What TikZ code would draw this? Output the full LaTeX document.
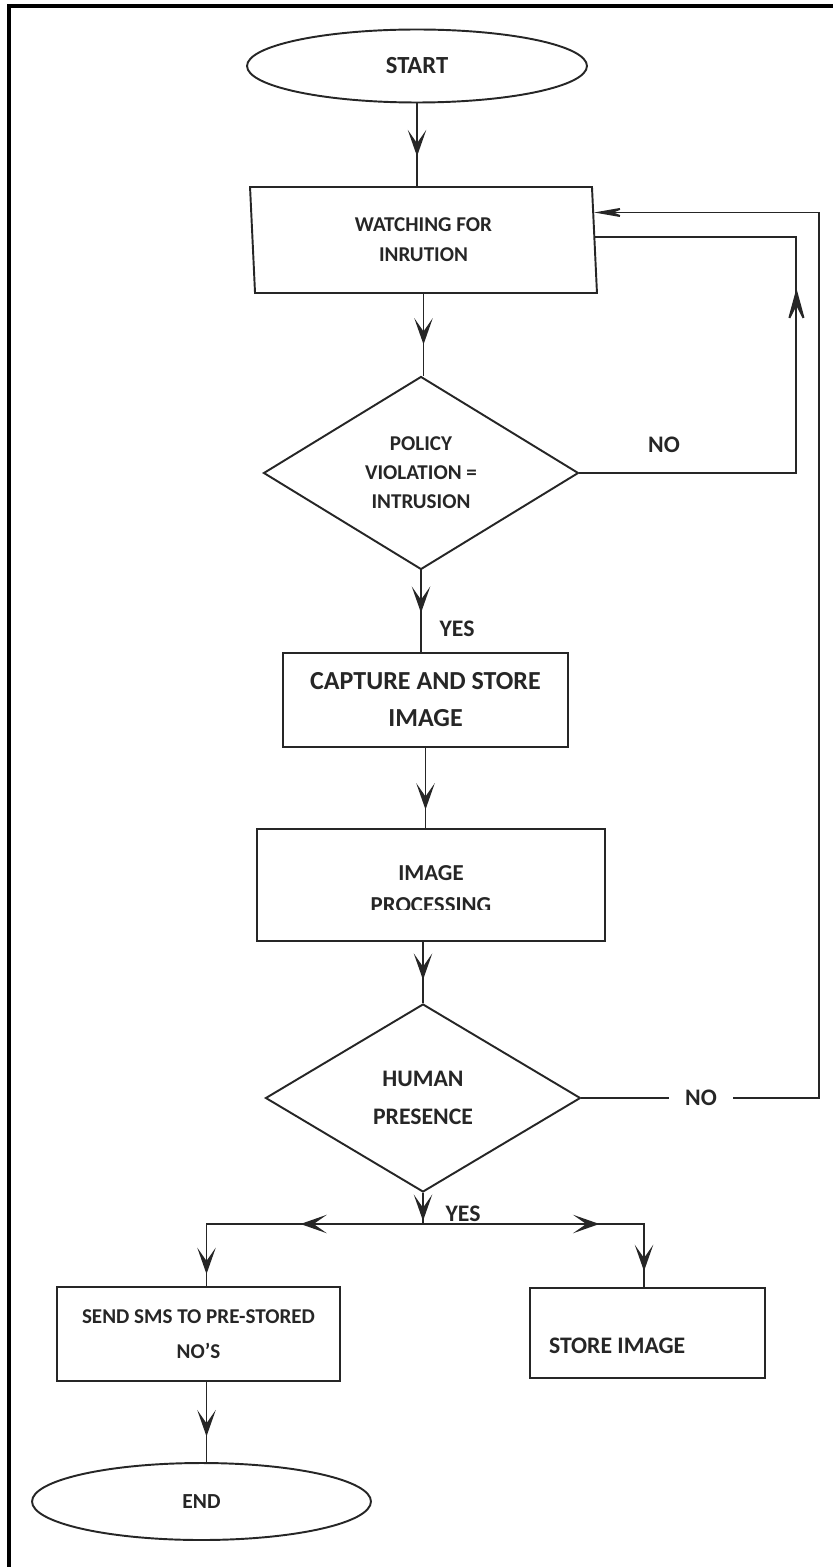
\documentclass[tikz,border=0pt]{standalone}
\usepackage{fontspec}
\setmainfont{Carlito}
\usetikzlibrary{positioning}
\usetikzlibrary{calc}
\usetikzlibrary{arrows.meta, shapes.geometric, decorations.markings}
\tikzset{
	chev/.tip={Stealth[length=15pt,width=10.5pt,inset=7.5pt]},
	bigchev/.tip={Stealth[length=22pt,width=12pt,inset=12pt]},
	longchev/.tip={Stealth[length=20pt,width=7pt,inset=9pt]},
	mid/.style={postaction={decorate,decoration={markings,mark=at position #1 with {\arrow{chev}}}}},
	bigmid/.style={postaction={decorate,decoration={markings,mark=at position #1 with {\arrow{bigchev}}}}},
	term/.style={ellipse, draw, inner sep=0pt, align=center},
	proc/.style={rectangle, draw, inner sep=0pt, align=center},
	io/.style={trapezium, trapezium stretches body, draw, inner sep=0pt, align=center},
	dec/.style={diamond, draw, inner sep=0pt, align=center},
	lbl/.style={font=\fontsize{13.5}{16}\selectfont\bfseries, inner sep=1pt}
}

\begin{document}
\begin{tikzpicture}[x=0.02cm, y=-0.02cm, line width=1.1pt, color=black!85]
	\useasboundingbox (0, 0) rectangle (833, 1567);
	\draw[line width=2.3pt, black] (9, 1567) -- (9, 6) -- (833, 6);

	\node[term, minimum width=6.8cm, minimum height=1.46cm, font=\fontsize{14}{17}\selectfont\bfseries] (a) at (417, 66) {START};
	\node[io, minimum width=6.94cm, minimum height=2.12cm, trapezium left angle=96.5, trapezium right angle=83.5, font=\fontsize{12}{17}\selectfont\bfseries] (b) at (423.5, 240) {WATCHING FOR\\INRUTION};
	\node[dec, minimum width=6.3cm, minimum height=3.86cm, font=\fontsize{12}{16.5}\selectfont\bfseries] (c) at (421, 473) {POLICY\\VIOLATION =\\INTRUSION};
	\node[proc, minimum width=5.7cm, minimum height=1.88cm, font=\fontsize{14.8}{21}\selectfont\bfseries] (d) at (425.5, 700) {CAPTURE AND STORE\\IMAGE};
	\node[io, minimum width=6.96cm, minimum height=2.24cm, trapezium left angle=95.6, trapezium right angle=84.4] (f) at (431, 885) {};
	\begin{scope}
		\clip (250, 850) rectangle (620, 909);
		\node[align=center, font=\fontsize{13}{18}\selectfont\bfseries] (f1) at (431, 889) {IMAGE\\PROCESSING};
	\end{scope}
	\node[dec, minimum width=6.3cm, minimum height=3.76cm, font=\fontsize{13.5}{21.6}\selectfont\bfseries] (h) at (423, 1098) {HUMAN\\PRESENCE};
	\node[proc, minimum width=5.66cm, minimum height=1.88cm, font=\fontsize{12}{20}\selectfont\bfseries] (j) at (198.5, 1334) {SEND SMS TO PRE-STORED\\NO’S};
	\node[proc, minimum width=4.7cm, minimum height=1.8cm] (i) at (647.5, 1333) {};
	\node[anchor=west, inner sep=0pt, font=\fontsize{13.5}{16}\selectfont\bfseries] (i1) at ([shift={(19,13)}]i.west) {STORE IMAGE};
	\node[term, minimum width=6.78cm, minimum height=1.54cm, font=\fontsize{12.2}{15}\selectfont\bfseries] (k) at (201.5, 1501.5) {END};

	\coordinate (w1) at ($(b.top right corner)!0.245!(b.bottom right corner)$);
	\coordinate (w2) at ($(b.top right corner)!0.472!(b.bottom right corner)$);
	\coordinate (br) at (423, 1224);

	\draw[mid=0.64] (a.south) -- (a.south |- b.north);
	\draw[mid=0.62] (b.south) -- (b.south |- c.north);
	\draw[mid=0.52] (c.south) -- (c.south |- d.north);
	\draw[mid=0.77] (d.south) -- (d.south |- f.north);
	\draw[mid=0.62] (f.south -| h.north) -- (h.north);
	\draw[mid=0.9] (h.south) -- (br);
	\draw[mid=0.44, mid=0.957] (br) -| ([shift={(8,0)}]j.north);
	\draw[mid=0.621, mid=0.944] (br) -| ([shift={(-3.5,0)}]i.north);
	\draw[mid=0.68] ([shift={(8,0)}]j.south) -- ([shift={(8,0)}]j.south |- k.north);

	\draw[bigmid=0.614] (c.east) -- ++(217, 0) |- (w2);
	\draw[-longchev] (h.east) -- ++(238, 0) |- (w1);

	\node[lbl] (y1) at (457, 629) {YES};
	\node[lbl] (y2) at (463, 1214) {YES};
	\node[lbl] (n1) at (664, 445) {NO};
	\node[lbl, fill=white, inner xsep=9pt] (n2) at (701, 1098) {NO};
\end{tikzpicture}
\end{document}
